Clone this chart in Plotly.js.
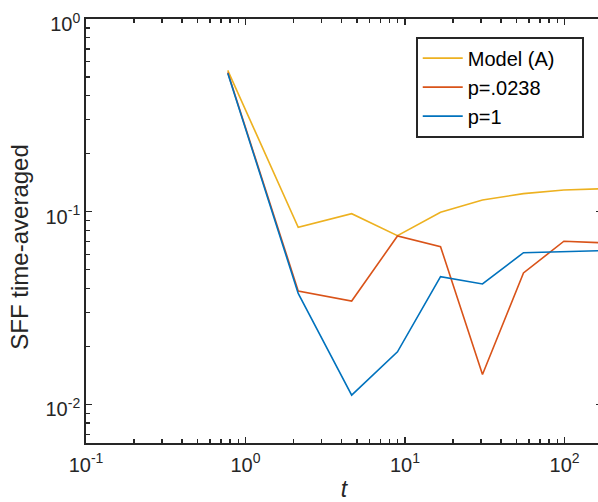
<!DOCTYPE html>
<html>
<head>
<meta charset="utf-8">
<script src="https://cdn.plot.ly/plotly-3.0.1.min.js"></script>
<style>
html,body{margin:0;padding:0;overflow:hidden;background:#fff;}
#chart{width:602px;height:502px;}
</style>
</head>
<body>
<div id="chart"></div>
<script>
// Data
const tValues = [0.774, 2.14, 4.63, 8.97, 16.7, 30.6, 55.3, 99.1, 173];
const modelA = [0.541, 0.0831, 0.0977, 0.0751, 0.0994, 0.1151, 0.1242, 0.1297, 0.1316];
const p0238 = [0.528, 0.0388, 0.0344, 0.0748, 0.0659, 0.01431, 0.0481, 0.0703, 0.0690];
const p1 = [0.523, 0.0377, 0.01117, 0.01876, 0.0460, 0.0422, 0.0613, 0.0623, 0.0628];
const seriesNames = ["Model (A)", "p=.0238", "p=1"];
const seriesColors = ["#EDB120", "#D95319", "#0072BD"];
const xTickVals = [0.1, 1, 10, 100];
const xTickText = ["10<sup>-1</sup>", "10<sup>0</sup>", "10<sup>1</sup>", "10<sup>2</sup>"];
const yTickVals = [0.01, 0.1, 1];
const yTickText = ["10<sup>-2</sup>", "10<sup>-1</sup>", "10<sup>0</sup>"];
const xMinorVals = [0.2,0.3,0.4,0.5,0.6,0.7,0.8,0.9,2,3,4,5,6,7,8,9,20,30,40,50,60,70,80,90,200];
const yMinorVals = [0.007,0.008,0.009,0.02,0.03,0.04,0.05,0.06,0.07,0.08,0.09,0.2,0.3,0.4,0.5,0.6,0.7,0.8,0.9];
const xTitle = "<i>t</i>";
const yTitle = "SFF time-averaged";

const series = [modelA, p0238, p1];
const NBSP = "\u00A0";
const traces = series.map((ys, i) => ({
  x: tValues, y: ys, type: "scatter", mode: "lines",
  // trailing no-break spaces only widen the legend box padding
  name: seriesNames[i] + (i === 0 ? NBSP.repeat(4) : ""),
  line: {color: seriesColors[i], width: 1.6}
}));

const FONT = "Liberation Sans, Arial, sans-serif";
function axis(tv, tt, mv) {
  return {
    type: "log",
    showgrid: false,
    zeroline: false,
    showline: true,
    linecolor: "#262626",
    linewidth: 1.8,
    mirror: "allticks",
    ticks: "inside",
    ticklen: 6,
    tickwidth: 1.5,
    tickcolor: "#262626",
    tickmode: "array",
    tickvals: tv,
    ticktext: tt,
    tickfont: {family: FONT, size: 20, color: "#262626"},
    minor: {tickmode: "array", tickvals: mv, ticks: "inside", ticklen: 4, tickwidth: 1.4, tickcolor: "#262626", showgrid: false}
  };
}

const layout = {
  width: 602, height: 502,
  margin: {l: 86, r: 0, t: 19, b: 59},
  paper_bgcolor: "#fff", plot_bgcolor: "#fff",
  showlegend: true,
  xaxis: Object.assign(axis(xTickVals, xTickText, xMinorVals), {
    range: [-1, 2.235],
    ticklabelstandoff: 3,
    title: {text: xTitle, font: {family: FONT, size: 23, color: "#262626"}, standoff: 14}
  }),
  yaxis: Object.assign(axis(yTickVals, yTickText, yMinorVals), {
    range: [-2.2, 0],
    ticklabelshift: 5
  }),
  annotations: [{
    text: yTitle, xref: "paper", yref: "paper",
    x: -0.128, y: 0.463, xanchor: "center", yanchor: "middle",
    textangle: -90, showarrow: false,
    font: {family: FONT, size: 24, color: "#262626"}
  }],
  legend: {
    x: 0.965, y: 0.958, xanchor: "right", yanchor: "top",
    bgcolor: "#fff", bordercolor: "#262626", borderwidth: 1.8,
    font: {family: FONT, size: 20, color: "#000"},
    itemwidth: 40,
    tracegroupgap: 0
  }
};

Plotly.newPlot("chart", traces, layout, {displayModeBar: false, staticPlot: true});
</script>
</body>
</html>
